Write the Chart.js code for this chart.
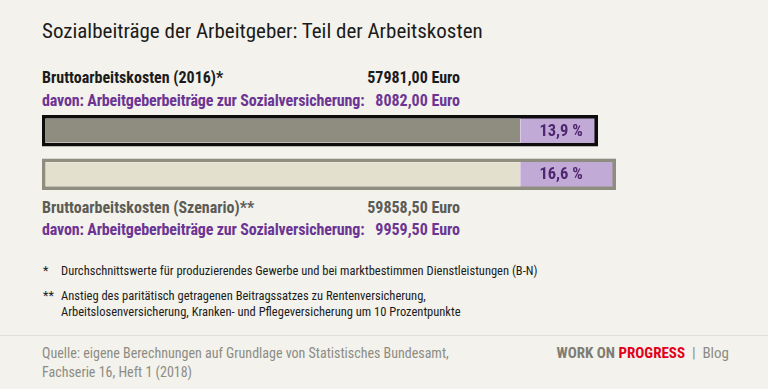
<!DOCTYPE html>
<html lang="de">
<head>
<meta charset="utf-8">
<script src="https://cdn.jsdelivr.net/npm/chart.js@4"></script>
<style>
  html, body { margin: 0; padding: 0; }
  body {
    width: 768px; height: 389px; background: #f3f2ec; position: relative; overflow: hidden;
    font-family: "Liberation Sans Narrow", "Roboto Condensed", "DejaVu Sans Condensed", sans-serif;
    font-stretch: condensed; color: #1b1b1b;
  }
  .t { position: absolute; white-space: nowrap; }
  .title { left: 42px; top: 19px; font-size: 21px; }
  .row { font-size: 16px; font-weight: bold; }
  .lft { left: 42px; }
  .rgt { right: 308px; text-align: right; }
  .purple { color: #6c3594; }
  .tight { letter-spacing: -0.15px; }
  .grey { color: #5c5b55; }
  .note { font-size: 12.5px; }
  .foot { font-size: 14px; color: #8d8c84; }
  #wrap { position: absolute; left: 42px; top: 109px; width: 671px; height: 87px; }
  .sep { position: absolute; left: 0; top: 335px; width: 768px; height: 1px; background: #e2e0d8; }
  .brand { font-weight: bold; color: #7e7d74; }
</style>
</head>
<body>
<div class="t title">Sozialbeiträge der Arbeitgeber: Teil der Arbeitskosten</div>

<div class="t row lft" style="top:68px">Bruttoarbeitskosten (2016)*</div>
<div class="t row rgt" style="top:68px">57981,00 Euro</div>
<div class="t row lft purple tight" style="top:91px">davon: Arbeitgeberbeiträge zur Sozialversicherung:</div>
<div class="t row rgt purple" style="top:91px">8082,00 Euro</div>

<div id="wrap"><canvas id="chart"></canvas></div>

<div class="t row lft grey" style="top:198px">Bruttoarbeitskosten (Szenario)**</div>
<div class="t row rgt grey" style="top:198px">59858,50 Euro</div>
<div class="t row lft purple tight" style="top:220px">davon: Arbeitgeberbeiträge zur Sozialversicherung:</div>
<div class="t row rgt purple" style="top:220px">9959,50 Euro</div>

<div class="t note" style="left:43px; top:263px">*</div>
<div class="t note" style="left:61px; top:263px">Durchschnittswerte für produzierendes Gewerbe und bei marktbestimmen Dienstleistungen (B-N)</div>
<div class="t note" style="left:43px; top:288px">**</div>
<div class="t note" style="left:61px; top:288px">Anstieg des paritätisch getragenen Beitragssatzes zu Rentenversicherung,</div>
<div class="t note" style="left:61px; top:304px">Arbeitslosenversicherung, Kranken- und Pflegeversicherung um 10 Prozentpunkte</div>

<div class="sep"></div>
<div class="t foot" style="left:42px; top:345px">Quelle: eigene Berechnungen auf Grundlage von Statistisches Bundesamt,</div>
<div class="t foot" style="left:42px; top:364px">Fachserie 16, Heft 1 (2018)</div>
<div class="t foot" style="right:39px; top:344px; font-size:15px"><span class="brand">WORK ON <span style="color:#e2001a">PROGRESS</span></span> &nbsp;|&nbsp; Blog</div>

<script>
// data
const categories = ['2016', 'Szenario'];
const totalCost = [57981.00, 59858.50];      // Bruttoarbeitskosten
const employerShare = [8082.00, 9959.50];    // Arbeitgeberbeiträge zur Sozialversicherung
const shareLabels = ['13,9 %', '16,6 %'];

const fillColors = ['#8f8d80', '#e3e0cd'];
const edgeColors = ['#0d0d0d', '#8f8d80'];

// prints the percentage inside the purple segment
const shareLabelPlugin = {
    id: 'shareLabels',
    afterDatasetsDraw(chart) {
        const meta = chart.getDatasetMeta(1);
        const ctx = chart.ctx;
        ctx.save();
        ctx.font = 'bold 16.5px "Liberation Sans Narrow", "Roboto Condensed", "DejaVu Sans Condensed", sans-serif';
        ctx.fillStyle = '#4f2671';
        ctx.textAlign = 'right';
        ctx.textBaseline = 'middle';
        const right = chart.scales.x.getPixelForValue(totalCost[0]) - 15;
        meta.data.forEach((bar, i) => {
            ctx.fillText(shareLabels[i], right, bar.y + 1);
        });
        ctx.restore();
    }
};

new Chart(document.getElementById('chart').getContext('2d'), {
    type: 'bar',
    data: {
        labels: categories,
        datasets: [
            {
                // outline on top
                label: 'Rahmen',
                data: totalCost,
                backgroundColor: 'rgba(0,0,0,0)',
                borderColor: edgeColors,
                borderWidth: 3,
                borderSkipped: false,
                barThickness: 31,
                grouped: false
            },
            {
                label: 'Arbeitgeberbeiträge',
                data: totalCost.map((t, i) => [t - employerShare[i], t]),
                backgroundColor: '#c2aad6',
                borderColor: '#d9cbe6',
                borderWidth: { left: 1, right: 0, top: 0, bottom: 0 },
                borderSkipped: false,
                barThickness: 31,
                grouped: false
            },
            {
                label: 'Bruttoarbeitskosten',
                data: totalCost,
                backgroundColor: fillColors,
                borderColor: '#f2f1e8',
                borderWidth: 4,
                borderSkipped: false,
                barThickness: 31,
                grouped: false
            }
        ]
    },
    options: {
        indexAxis: 'y',
        responsive: true,
        maintainAspectRatio: false,
        animation: false,
        layout: { padding: 0 },
        scales: {
            x: { display: false, min: 0, max: 70000 },
            y: { display: false }
        },
        plugins: {
            legend: { display: false },
            tooltip: { enabled: false }
        }
    },
    plugins: [shareLabelPlugin]
});
</script>
</body>
</html>
